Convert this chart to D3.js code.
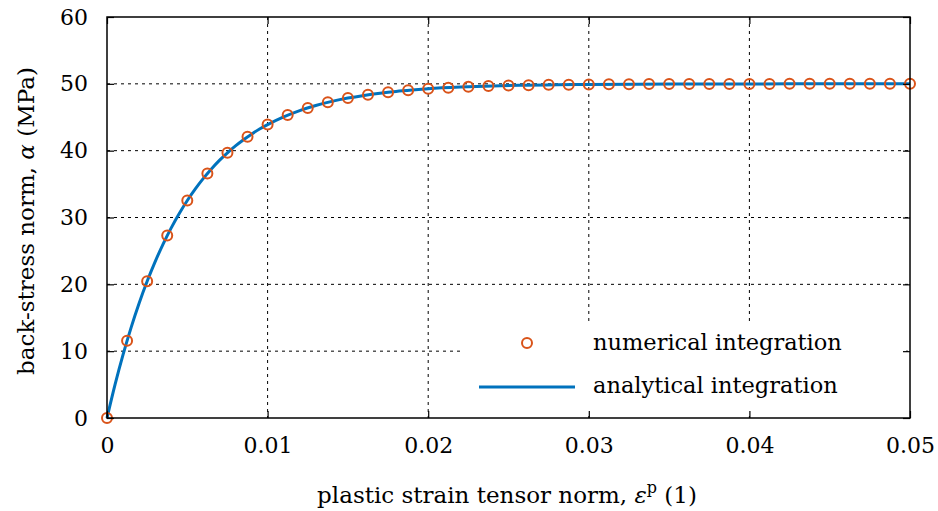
<!DOCTYPE html>
<html>
<head>
<meta charset="utf-8">
<script src="https://cdn.jsdelivr.net/npm/d3@7"></script>
<style>
  html, body { margin: 0; padding: 0; background: #fff; }
  svg { display: block; }
  text { font-family: "DejaVu Serif", serif; fill: #000; }
</style>
</head>
<body>
<svg id="chart" width="938" height="511"></svg>
<script>
// Numerical integration: plastic strain steps and back-stress norm (MPa)
const numStrain = [
  0, 0.00125, 0.0025, 0.00375, 0.005, 0.00625, 0.0075, 0.00875, 0.01, 0.01125,
  0.0125, 0.01375, 0.015, 0.01625, 0.0175, 0.01875, 0.02, 0.02125, 0.0225, 0.02375,
  0.025, 0.02625, 0.0275, 0.02875, 0.03, 0.03125, 0.0325, 0.03375, 0.035, 0.03625,
  0.0375, 0.03875, 0.04, 0.04125, 0.0425, 0.04375, 0.045, 0.04625, 0.0475, 0.04875, 0.05
];
const numStress = [
  0, 11.57, 20.46, 27.30, 32.55, 36.58, 39.69, 42.07, 43.91, 45.32,
  46.40, 47.23, 47.87, 48.37, 48.74, 49.03, 49.26, 49.43, 49.56, 49.66,
  49.74, 49.80, 49.85, 49.88, 49.91, 49.93, 49.95, 49.96, 49.97, 49.98,
  49.98, 49.99, 49.99, 49.99, 50.00, 50.00, 50.00, 50.00, 50.00, 50.00, 50.00
];

// Analytical integration: finer strain samples and back-stress norm (MPa)
const anaStrain = [
  0, 0.0005, 0.001, 0.0015, 0.002, 0.0025, 0.003, 0.0035, 0.004, 0.0045,
  0.005, 0.0055, 0.006, 0.0065, 0.007, 0.0075, 0.008, 0.0085, 0.009, 0.0095,
  0.010, 0.011, 0.012, 0.013, 0.014, 0.015, 0.016, 0.017, 0.018, 0.019,
  0.020, 0.022, 0.024, 0.026, 0.028, 0.030, 0.033, 0.036, 0.040, 0.045, 0.050
];
const anaStress = [
  0, 4.99, 9.48, 13.53, 17.17, 20.45, 23.40, 26.06, 28.45, 30.60,
  32.54, 34.28, 35.85, 37.26, 38.54, 39.68, 40.71, 41.64, 42.47, 43.23,
  43.90, 45.06, 46.00, 46.76, 47.37, 47.87, 48.27, 48.60, 48.87, 49.08,
  49.26, 49.51, 49.68, 49.79, 49.86, 49.91, 49.95, 49.97, 49.99, 50.00, 50.00
];

const xTicks = [0, 0.01, 0.02, 0.03, 0.04, 0.05];
const xTickLabels = ["0", "0.01", "0.02", "0.03", "0.04", "0.05"];
const yTicks = [0, 10, 20, 30, 40, 50, 60];
const yTickLabels = ["0", "10", "20", "30", "40", "50", "60"];
const legendLabels = ["numerical integration", "analytical integration"];

const colNum = "#D95319";
const colAna = "#0072BD";
const tickFont = 22;
const titleFont = 23;
const legendFont = 22.5;

const svg = d3.select("#chart");
const m = { left: 107, right: 910, top: 17, bottom: 418 };

const x = d3.scaleLinear().domain([0, 0.05]).range([m.left, m.right]);
const y = d3.scaleLinear().domain([0, 60]).range([m.bottom, m.top]);

// dotted grid
const grid = svg.append("g").attr("stroke", "#000").attr("stroke-width", 1)
  .attr("stroke-dasharray", "3,4");
xTicks.slice(1, -1).forEach(t => {
  grid.append("line").attr("x1", x(t)).attr("x2", x(t))
    .attr("y1", m.top).attr("y2", m.bottom);
});
yTicks.slice(1, -1).forEach(t => {
  grid.append("line").attr("x1", m.left).attr("x2", m.right)
    .attr("y1", y(t)).attr("y2", y(t));
});

// legend background (white, hides grid beneath)
svg.append("rect").attr("x", 461).attr("y", 323).attr("width", 445).attr("height", 90)
  .attr("fill", "#fff");

// analytical curve
const line = d3.line()
  .x((d, i) => x(anaStrain[i]))
  .y(d => y(d))
  .curve(d3.curveMonotoneX);
svg.append("path").datum(anaStress)
  .attr("d", line)
  .attr("fill", "none")
  .attr("stroke", colAna)
  .attr("stroke-width", 3);

// numerical points
svg.append("g").selectAll("circle").data(numStress).join("circle")
  .attr("cx", (d, i) => x(numStrain[i]))
  .attr("cy", d => y(d))
  .attr("r", 5)
  .attr("fill", "none")
  .attr("stroke", colNum)
  .attr("stroke-width", 2);

// axes with inward ticks on all sides
const tickLen = 7;
const axB = d3.axisBottom(x).tickValues(xTicks).tickSize(-tickLen).tickFormat((d, i) => xTickLabels[i]).tickPadding(19);
const axT = d3.axisTop(x).tickValues(xTicks).tickSize(-tickLen).tickFormat("");
const axL = d3.axisLeft(y).tickValues(yTicks).tickSize(-tickLen).tickFormat((d, i) => yTickLabels[i]).tickPadding(19);
const axR = d3.axisRight(y).tickValues(yTicks).tickSize(-tickLen).tickFormat("");

function styleAxis(g) {
  g.select(".domain").remove();
  g.selectAll(".tick line").attr("stroke", "#000").attr("stroke-width", 1.2);
  g.selectAll(".tick text").attr("font-size", tickFont).attr("font-family", "DejaVu Serif, serif").attr("fill", "#000");
}
svg.append("g").attr("transform", `translate(0,${m.bottom})`).call(axB).call(styleAxis);
svg.append("g").attr("transform", `translate(0,${m.top})`).call(axT).call(styleAxis);
svg.append("g").attr("transform", `translate(${m.left},0)`).call(axL).call(styleAxis);
svg.append("g").attr("transform", `translate(${m.right},0)`).call(axR).call(styleAxis);

// frame
svg.append("rect").attr("x", m.left).attr("y", m.top)
  .attr("width", m.right - m.left).attr("height", m.bottom - m.top)
  .attr("fill", "none").attr("stroke", "#000").attr("stroke-width", 1.5);

// legend entries
const lg = svg.append("g");
lg.append("circle").attr("cx", 527).attr("cy", 343).attr("r", 5)
  .attr("fill", "none").attr("stroke", colNum).attr("stroke-width", 2);
lg.append("line").attr("x1", 479).attr("x2", 575).attr("y1", 387).attr("y2", 387)
  .attr("stroke", colAna).attr("stroke-width", 3);
lg.append("text").attr("x", 593).attr("y", 350).attr("font-size", legendFont).text(legendLabels[0]);
lg.append("text").attr("x", 593).attr("y", 393).attr("font-size", legendFont).text(legendLabels[1]);

// axis titles
const xt = svg.append("text").attr("x", 507).attr("y", 503).attr("text-anchor", "middle").attr("font-size", titleFont);
xt.append("tspan").text("plastic strain tensor norm, ");
xt.append("tspan").attr("font-style", "italic").text("ε");
xt.append("tspan").attr("font-size", 16).attr("dy", -10).text("p");
xt.append("tspan").attr("dy", 10).text(" (1)");

const yt = svg.append("text").attr("transform", "translate(34,221) rotate(-90)")
  .attr("text-anchor", "middle").attr("font-size", titleFont);
yt.append("tspan").text("back-stress norm, ");
yt.append("tspan").attr("font-style", "italic").text("α");
yt.append("tspan").text(" (MPa)");
</script>
</body>
</html>
